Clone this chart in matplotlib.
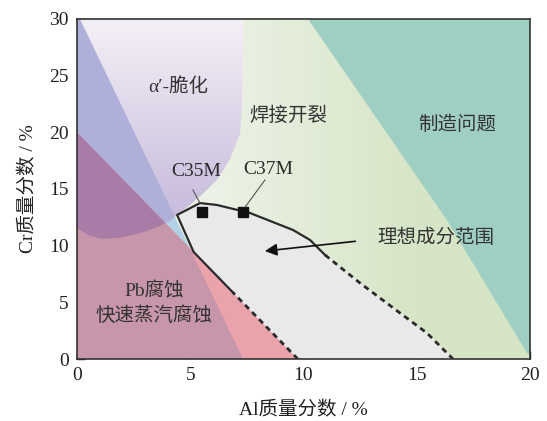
import numpy as np
import matplotlib
matplotlib.use('Agg')
import matplotlib.pyplot as plt
from matplotlib.patches import Polygon

plt.rcParams['font.family'] = ['Liberation Serif', 'Noto Sans CJK SC']
plt.rcParams['hatch.color'] = '#d4d4d4'
plt.rcParams['hatch.linewidth'] = 0.6

# ---------------- data (Al wt.%, Cr wt.%) ----------------
x_ticks = [0, 5, 10, 15, 20]
y_ticks = [0, 5, 10, 15, 20, 25, 30]

# manufacturing problem region (teal)
teal_al = [10.2, 20.0, 20.0, 19.87, 16.33]
teal_cr = [30.0, 30.0, 0.4, 0.53, 12.26]

# blue wedge
blue_al = [0.0, 0.13, 7.33, 0.0]
blue_cr = [30.0, 30.0, 0.0, 0.0]

# Pb corrosion region (pink triangle)
pink_al = [0.0, 9.75, 0.0]
pink_cr = [20.0, 0.0, 0.0]

# alpha' embrittlement blob
blob_al = [0.0, 7.33, 7.28, 7.2, 6.75, 6.18, 5.56, 5.0, 4.42, 4.1, 3.58, 2.78, 1.9, 1.1, 0.57, 0.0]
blob_cr = [30.0, 30.0, 22.0, 19.9, 17.6, 15.8, 14.6, 13.6, 12.7, 12.2, 11.65, 11.1, 10.7, 10.6, 10.85, 11.56]

# ideal composition range boundary
top_al = [4.42, 5.43, 6.18, 7.64, 9.54, 10.29, 10.95]
top_cr = [12.71, 13.76, 13.59, 12.88, 11.38, 10.5, 9.18]
right_dash_al = [10.95, 12.49, 14.26, 15.45, 16.6]
right_dash_cr = [9.18, 6.71, 4.06, 2.29, 0.0]
left_solid_al = [6.87, 5.15, 4.42]
left_solid_cr = [5.9, 9.44, 12.71]
left_dash_al = [9.75, 6.87]
left_dash_cr = [0.0, 5.9]

# alloys
alloy_names = ['C35M', 'C37M']
alloy_al = [5.52, 7.33]
alloy_cr = [12.97, 12.97]
label_al = [5.25, 8.43]
label_cr = [16.5, 16.7]
leader_al = [[5.12, 5.43], [8.3, 7.42]]
leader_cr = [[14.91, 13.76], [15.8, 13.4]]

# ---------------- figure ----------------
fig = plt.figure(figsize=(5.47, 4.21), dpi=100)
ax = fig.add_axes([77/547, 1-359/421, (530-77)/547, (359-19)/421])
ax.set_xlim(0, 20)
ax.set_ylim(0, 30)

# green background gradient
nx = 300
xs = np.linspace(0, 20, nx)
c1 = np.array([236, 242, 230]) / 255
c2 = np.array([214, 229, 198]) / 255
t = np.clip((xs - 6) / 9, 0, 1)[None, :, None]
bg = (1 - t) * c1 + t * c2
bg = np.repeat(bg, 2, axis=0)
ax.imshow(bg, extent=[0, 20, 0, 30], aspect='auto', zorder=0, interpolation='bilinear')

# teal
ax.add_patch(Polygon(np.column_stack([teal_al, teal_cr]), closed=True,
                     facecolor='#9fcfc3', edgecolor='none', zorder=1))

# blue wedge (light blue)
blue_xy = np.column_stack([blue_al, blue_cr])
ax.add_patch(Polygon(blue_xy, closed=True, facecolor='#b2d1e6', edgecolor='none', zorder=1.5))

# blob gradient
blob_xy = np.column_stack([blob_al, blob_cr])
blob_patch = Polygon(blob_xy, closed=True, facecolor='none', edgecolor='none', zorder=2)
ax.add_patch(blob_patch)
ny = 300
ys = np.linspace(30, 0, ny)
top_c = np.array([244, 240, 246]) / 255
bot_c = np.array([196, 182, 218]) / 255
s = np.clip((30 - ys) / 19, 0, 1)[:, None, None]
blob_img = (1 - s) * top_c + s * bot_c
blob_img = np.repeat(blob_img, 2, axis=1)
im = ax.imshow(blob_img, extent=[0, 20, 0, 30], aspect='auto', zorder=2, interpolation='bilinear')
im.set_clip_path(blob_patch)

# blue over blob (periwinkle)
p = Polygon(blue_xy, closed=True, facecolor='#aeb0da', edgecolor='none', zorder=2.5)
ax.add_patch(p)
p.set_clip_path(blob_patch)

# pink triangle (salmon)
pink_xy = np.column_stack([pink_al, pink_cr])
pink_patch = Polygon(pink_xy, closed=True, facecolor='#eba3ab', edgecolor='none', zorder=3)
ax.add_patch(pink_patch)
blue_clip = Polygon(blue_xy, closed=True, facecolor='none', edgecolor='none')
ax.add_patch(blue_clip)
p = Polygon(pink_xy, closed=True, facecolor='#c896aa', edgecolor='none', zorder=3.5)
ax.add_patch(p)
p.set_clip_path(blue_clip)
p = Polygon(blob_xy, closed=True, facecolor='#a87ca6', edgecolor='none', zorder=3.7)
ax.add_patch(p)
p.set_clip_path(pink_patch)

# ideal region
ideal_al = top_al + right_dash_al[1:] + [left_dash_al[0]] + left_solid_al[1:2]
ideal_cr = top_cr + right_dash_cr[1:] + [left_dash_cr[0]] + left_solid_cr[1:2]
ax.add_patch(Polygon(np.column_stack([ideal_al, ideal_cr]), closed=True,
                     facecolor='#e9e9e9', edgecolor='none', hatch='||||', zorder=4))

lc = '#2a2a2a'
ax.plot(left_solid_al + top_al[1:], left_solid_cr + top_cr[1:], color=lc, lw=1.6, zorder=5,
        solid_joinstyle='round')
ax.plot(right_dash_al, right_dash_cr, color=lc, lw=2.0, ls=(0, (2.0, 1.6)), zorder=5)
ax.plot(left_dash_al, left_dash_cr, color=lc, lw=2.0, ls=(0, (2.0, 1.6)), zorder=5)

# alloys
ax.plot(alloy_al, alloy_cr, ls='none', marker='s', ms=7.5, color='#111111', zorder=6)
for i, name in enumerate(alloy_names):
    ax.plot(leader_al[i], leader_cr[i], color='#555555', lw=0.8, zorder=6)
    ax.text(label_al[i], label_cr[i], name, ha='center', va='center', fontsize=14,
            color='#2a2a2a', zorder=7)

# arrow
ax.annotate('', xy=(8.17, 9.5), xytext=(12.41, 10.41),
            arrowprops=dict(arrowstyle='-|>', color='#111111', lw=1.2,
                            mutation_scale=18), zorder=7)

tc = '#333333'
ax.text(4.46, 24.0, 'α′-脆化', ha='center', va='center', fontsize=14, color=tc, zorder=7)
ax.text(9.35, 21.45, '焊接开裂', ha='center', va='center', fontsize=14, color=tc, zorder=7)
ax.text(16.78, 20.65, '制造问题', ha='center', va='center', fontsize=14, color=tc, zorder=7)
ax.text(15.85, 10.7, '理想成分范围', ha='center', va='center', fontsize=14, color=tc, zorder=7)
ax.text(3.4, 6.0, 'Pb腐蚀', ha='center', va='center', fontsize=14, color=tc, zorder=7)
ax.text(3.4, 3.8, '快速蒸汽腐蚀', ha='center', va='center', fontsize=14, color=tc, zorder=7)

ax.set_xticks(x_ticks)
ax.set_yticks(y_ticks)
ax.tick_params(direction='in', length=6, width=1.0, top=False, right=False,
               labelsize=14, pad=6, colors='#222222')
for sp in ax.spines.values():
    sp.set_linewidth(1.2)
    sp.set_color('#333333')
    sp.set_zorder(10)

fig.text(303/547, 1-410/421, 'Al质量分数 / %', ha='center', va='center', fontsize=14, color='#222222')
fig.text(28/547, 1-189/421, 'Cr质量分数 / %', ha='center', va='center', fontsize=14,
         rotation=90, color='#222222')

fig.savefig('out.png', dpi=100)
